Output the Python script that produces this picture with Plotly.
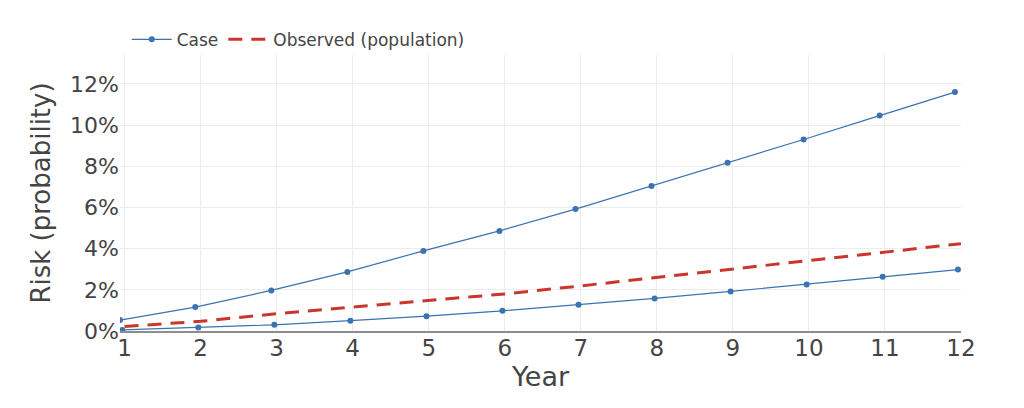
import plotly.graph_objects as go

# Data
case_upper_x = [0.94, 1.93, 2.93, 3.93, 4.93, 5.93, 6.93, 7.93, 8.93, 9.93, 10.93, 11.92]
case_upper_y = [0.0053, 0.0116, 0.0197, 0.0287, 0.0389, 0.0486, 0.0592, 0.0704, 0.0817, 0.0930, 0.1046, 0.1160]
case_lower_x = [0.97, 1.97, 2.97, 3.97, 4.97, 5.97, 6.97, 7.97, 8.97, 9.97, 10.97, 11.96]
case_lower_y = [0.0005, 0.0017, 0.0030, 0.0050, 0.0072, 0.0098, 0.0127, 0.0158, 0.0192, 0.0226, 0.0263, 0.0298]
observed_x = [1, 2, 3, 4, 5, 6, 7, 8, 9, 10, 11, 12]
observed_y = [0.0022, 0.0047, 0.0084, 0.0116, 0.0147, 0.0180, 0.0219, 0.0260, 0.0302, 0.0343, 0.0384, 0.0424]
x_ticks = [1, 2, 3, 4, 5, 6, 7, 8, 9, 10, 11, 12]
y_ticks = [0, 0.02, 0.04, 0.06, 0.08, 0.10, 0.12]

BLUE = "#3b72b0"
RED = "#c9372c"
FONT = "DejaVu Sans"

fig = go.Figure()
fig.add_trace(go.Scatter(
    x=case_upper_x, y=case_upper_y, mode="lines+markers", name="Case",
    line=dict(color=BLUE, width=1.2), marker=dict(color=BLUE, size=6),
    legendgroup="case"))
fig.add_trace(go.Scatter(
    x=case_lower_x, y=case_lower_y, mode="lines+markers", name="Case",
    line=dict(color=BLUE, width=1.2), marker=dict(color=BLUE, size=6),
    legendgroup="case", showlegend=False))
fig.add_trace(go.Scatter(
    x=observed_x, y=observed_y, mode="lines", name="Observed (population)",
    line=dict(color=RED, width=3, dash="14px,9px")))

fig.update_layout(
    width=1024, height=408,
    margin=dict(l=120, r=63, t=55, b=77),
    paper_bgcolor="white", plot_bgcolor="white",
    font=dict(family=FONT, color="#444444"),
    showlegend=True,
    legend=dict(orientation="h", x=0.008, y=0.99, xanchor="left", yanchor="bottom",
                itemwidth=40, entrywidthmode="pixels",
                font=dict(size=17, color="#444444"), bgcolor="rgba(0,0,0,0)"),
    xaxis=dict(
        range=[0.94, 12.0], tickvals=x_ticks, ticktext=[str(v) for v in x_ticks],
        showgrid=True, gridcolor="#ececec", gridwidth=1,
        showline=True, linecolor="#8c8c8c", linewidth=2,
        zeroline=False, ticks="", tickfont=dict(size=23),
        ticklabelstandoff=-5,
        title=dict(text="Year", font=dict(size=27), standoff=2),
    ),
    yaxis=dict(
        range=[0, 0.134], tickvals=y_ticks, tickformat=".0%",
        showgrid=True, gridcolor="#ececec", gridwidth=1,
        showline=False, zeroline=False, ticks="", tickfont=dict(size=22),
        title=dict(text="Risk (probability)", font=dict(size=26), standoff=11),
    ),
)

fig.write_html("out.html")
